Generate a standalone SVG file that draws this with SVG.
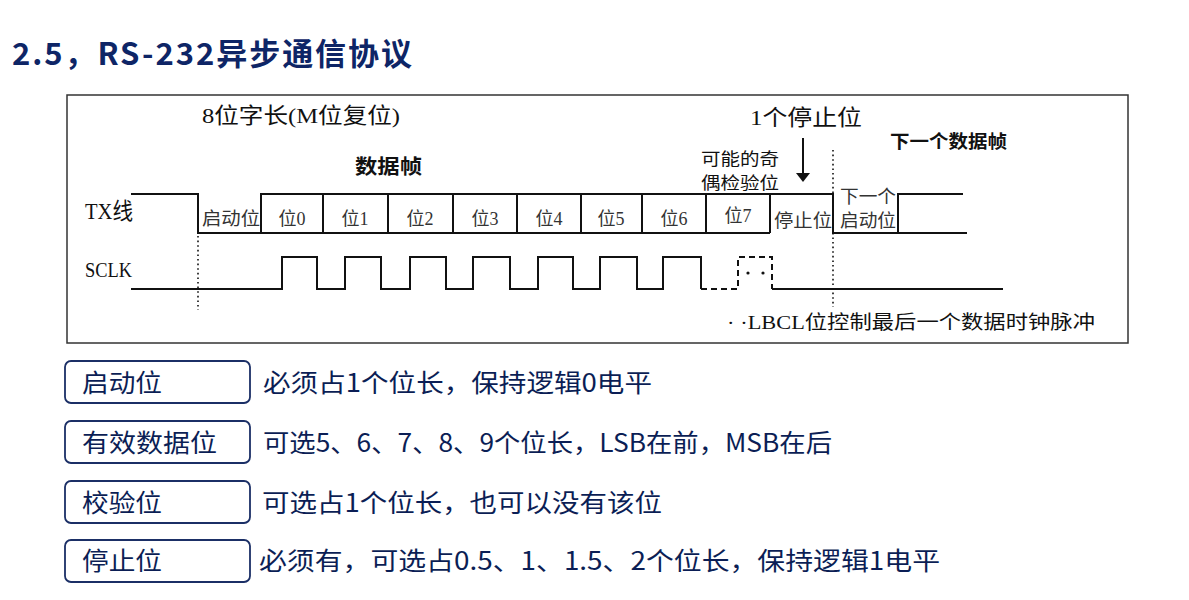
<svg xmlns="http://www.w3.org/2000/svg" width="1189" height="600" viewBox="0 0 1189 600">
<style>
.sig{fill:none;stroke:#111;stroke-width:2}
.dash{fill:none;stroke:#111;stroke-width:2;stroke-dasharray:6 4}
.dot{fill:none;stroke:#111;stroke-width:1.6;stroke-dasharray:1.6 3}
.ser{font-family:"Liberation Serif","Noto Sans CJK SC",serif;fill:#111}
.bit{font-family:"Liberation Serif","Noto Sans CJK SC",serif;fill:#333;font-size:18px}
.hd{font-family:"Noto Sans CJK SC","Liberation Sans",sans-serif;fill:#111;font-weight:bold}
.title{font-family:"Noto Sans CJK SC","Liberation Sans",sans-serif;fill:#0E2566;font-weight:bold;font-size:31px}
.box{fill:#fff;stroke:#1B2F66;stroke-width:1.8}
.lbl{font-family:"Noto Sans CJK SC","Liberation Sans",sans-serif;fill:#0B1E55;font-size:25px}
</style>
<rect width="1189" height="600" fill="#fff"/>
<text class="title" x="12" y="65" textLength="400" lengthAdjust="spacing">2.5，RS-232异步通信协议</text>

<g id="frame">
<rect x="67" y="95" width="1061" height="248" fill="none" stroke="#333" stroke-width="1.5"/>
</g>

<g id="labels">
<text class="ser" x="202" y="123" font-size="22" textLength="198" lengthAdjust="spacingAndGlyphs">8位字长(M位复位)</text>
<text class="hd" x="355" y="174" font-size="20" textLength="67" lengthAdjust="spacingAndGlyphs">数据帧</text>
<text class="ser" x="750" y="125" font-size="22" textLength="112" lengthAdjust="spacingAndGlyphs">1个停止位</text>
<text class="hd" x="890" y="148" font-size="18" textLength="117" lengthAdjust="spacingAndGlyphs">下一个数据帧</text>
<text class="ser" x="701" y="165" font-size="17" fill="#333" textLength="78" lengthAdjust="spacingAndGlyphs">可能的奇</text>
<text class="ser" x="701" y="189" font-size="17" fill="#333" textLength="78" lengthAdjust="spacingAndGlyphs">偶检验位</text>
<text class="ser" x="85" y="219" font-size="23" textLength="48" lengthAdjust="spacingAndGlyphs">TX线</text>
<text class="ser" x="85" y="277" font-size="22" textLength="47" lengthAdjust="spacingAndGlyphs">SCLK</text>
<text class="ser" x="727" y="329" font-size="19" textLength="368" lengthAdjust="spacingAndGlyphs">·<tspan dx="5">·</tspan>LBCL位控制最后一个数据时钟脉冲</text>
</g>

<g id="tx-line">
<path class="sig" d="M131,194 H198 V233 H770 M261,233 V194 H833 V233 H967 M898,233 V194 H963"/>
<path class="sig" d="M323,194 V233 M388,194 V233 M453,194 V233 M517,194 V233 M581,194 V233 M642,194 V233 M706,194 V233 M770,194 V233"/>
<text class="bit" x="202" y="225" textLength="58" lengthAdjust="spacingAndGlyphs">启动位</text>
<text class="bit" x="292" y="225" text-anchor="middle">位0</text>
<text class="bit" x="355" y="225" text-anchor="middle">位1</text>
<text class="bit" x="420" y="225" text-anchor="middle">位2</text>
<text class="bit" x="485" y="225" text-anchor="middle">位3</text>
<text class="bit" x="549" y="225" text-anchor="middle">位4</text>
<text class="bit" x="611" y="225" text-anchor="middle">位5</text>
<text class="bit" x="674" y="225" text-anchor="middle">位6</text>
<text class="bit" x="738" y="222" text-anchor="middle">位7</text>
<text class="bit" x="774" y="227" textLength="58" lengthAdjust="spacingAndGlyphs">停止位</text>
<text class="bit" x="840" y="203" textLength="56" lengthAdjust="spacingAndGlyphs">下一个</text>
<text class="bit" x="840" y="227" textLength="56" lengthAdjust="spacingAndGlyphs">启动位</text>
</g>

<g id="sclk">
<path class="sig" d="M131,289 H282 V257 H317 V289 H345 V257 H381 V289 H410 V257 H446 V289 H473 V257 H510 V289 H538 V257 H573 V289 H600 V257 H637 V289 H663 V257 H701 V289"/>
<path class="dash" d="M701,289 H738 V257 H772 V289"/>
<path class="sig" d="M772,289 H1003"/>
<circle cx="748" cy="273" r="1.6" fill="#111"/>
<circle cx="763" cy="273" r="1.6" fill="#111"/>
</g>

<g id="connectors">
<path class="dot" d="M198,236 V310"/>
<path class="dot" d="M833,150 V307"/>
<path d="M803,138 V174" stroke="#111" stroke-width="2"/>
<polygon points="796,173 810,173 803,182" fill="#111"/>
</g>

<g id="start-bit">
<rect class="box" x="65" y="361" width="185" height="42" rx="6"/>
<text class="lbl" x="82" y="392" textLength="80" lengthAdjust="spacingAndGlyphs">启动位</text>
<text class="lbl" x="263" y="392" textLength="389" lengthAdjust="spacingAndGlyphs">必须占1个位长，保持逻辑0电平</text>
</g>
<g id="data-bits">
<rect class="box" x="65" y="421" width="185" height="42" rx="6"/>
<text class="lbl" x="82" y="452" textLength="135" lengthAdjust="spacingAndGlyphs">有效数据位</text>
<text class="lbl" x="263" y="452" textLength="569" lengthAdjust="spacingAndGlyphs">可选5、6、7、8、9个位长，LSB在前，MSB在后</text>
</g>
<g id="parity-bit">
<rect class="box" x="65" y="481" width="185" height="42" rx="6"/>
<text class="lbl" x="82" y="512" textLength="80" lengthAdjust="spacingAndGlyphs">校验位</text>
<text class="lbl" x="262" y="512" textLength="400" lengthAdjust="spacingAndGlyphs">可选占1个位长，也可以没有该位</text>
</g>
<g id="stop-bit">
<rect class="box" x="65" y="540" width="185" height="42" rx="6"/>
<text class="lbl" x="82" y="570" textLength="80" lengthAdjust="spacingAndGlyphs">停止位</text>
<text class="lbl" x="259" y="570" textLength="681" lengthAdjust="spacingAndGlyphs">必须有，可选占0.5、1、1.5、2个位长，保持逻辑1电平</text>
</g>
</svg>
